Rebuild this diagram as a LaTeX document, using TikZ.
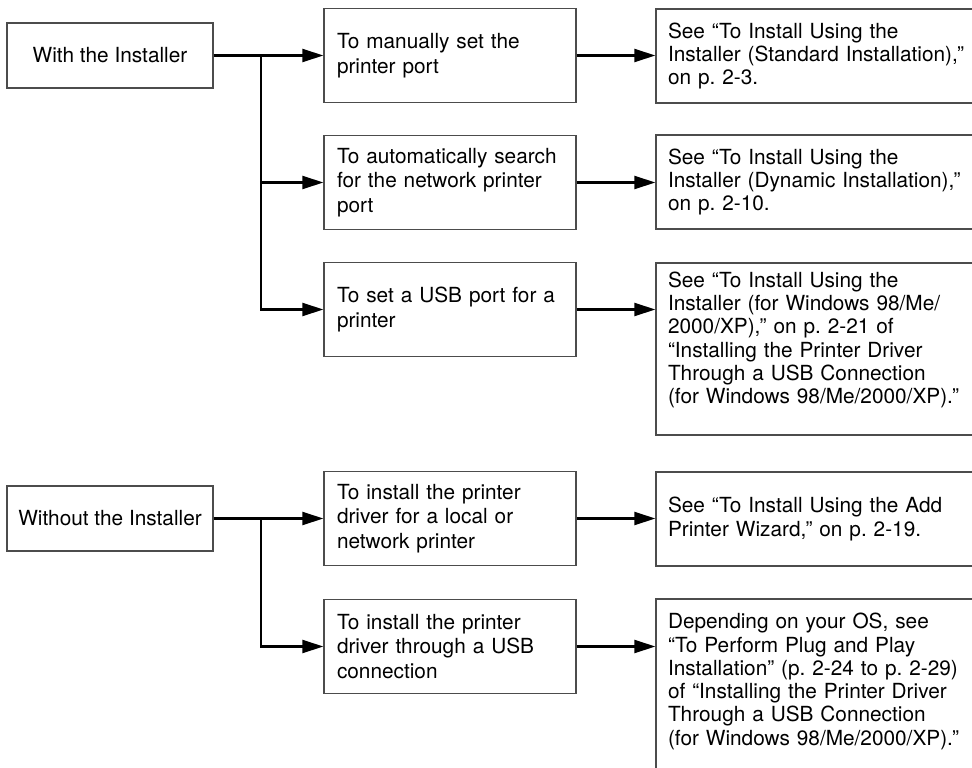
\documentclass[tikz,border=0pt]{standalone}
\usepackage{fontspec}
\setmainfont{TeX Gyre Heros}
\usepackage{tikz}
\usetikzlibrary{arrows.meta}
\definecolor{boxline}{gray}{0.3}
\frenchspacing

\begin{document}
\begin{tikzpicture}[x=1pt,y=-1pt,
      box/.style={draw=boxline, line width=1.3pt, rectangle, inner ysep=0pt},
      startbox/.style={box, minimum width=206pt, minimum height=65pt,
                       font=\fontsize{20.8}{24}\selectfont},
      choicebox/.style={box, minimum height=93.5pt, text width=226pt, inner xsep=13pt,
                        align=left, font=\fontsize{20.8}{24.7}\selectfont},
      refbox/.style={box, minimum height=94pt, text width=310pt, inner xsep=12pt,
                     align=left, font=\fontsize{20.8}{23.3}\selectfont},
      link/.style={line width=2.2pt, -{Triangle[length=21pt,width=13pt]}},
      ]
      \useasboundingbox (0,0) rectangle (972,768);
      \clip (0,0) rectangle (972,768);

      \node[startbox] (with) at (110,55.5) {With the Installer};
      \node[startbox] (without) at (110,518.5) {Without the Installer};

      \node[choicebox] (mid1) at (450,55.5) {To manually set the\\printer port};
      \node[choicebox] (mid2) at (450,182.5) {To automatically search\\for the network printer\\port};
      \node[choicebox] (mid3) at (450,309.5) {To set a USB port for a\\printer};
      \node[choicebox] (mid4) at (450,518.5) {To install the printer\\driver for a local or\\network printer};
      \node[choicebox] (mid5) at (450,646.5) {To install the printer\\driver through a USB\\connection};

      \node[refbox] (ref1) at (823,56) {See “To Install Using the\\Installer (Standard Installation),”\\on p. 2-3.};
      \node[refbox] (ref2) at (823,182) {See “To Install Using the\\Installer (Dynamic Installation),”\\on p. 2-10.};
      \node[refbox, minimum height=172pt, text depth=139pt] (ref3) at (823,349) {See “To Install Using the\\Installer (for Windows 98/Me/\\2000/XP),” on p. 2-21 of\\“Installing the Printer Driver\\Through a USB Connection\\(for Windows 98/Me/2000/XP).”};
      \node[refbox] (ref4) at (823,519) {See “To Install Using the Add\\Printer Wizard,” on p. 2-19.};
      \node[refbox, minimum height=173pt, text depth=129pt] (ref5) at (823,685.5) {Depending on your OS, see\\“To Perform Plug and Play\\Installation” (p. 2-24 to p. 2-29)\\of “Installing the Printer Driver\\Through a USB Connection\\(for Windows 98/Me/2000/XP).”};

      \coordinate (fork1) at ([xshift=47pt]with.east);
      \coordinate (fork2) at ([xshift=47pt]without.east);

      \draw[link] (with) -- (mid1);
      \draw[link] (fork1) |- (mid2.west);
      \draw[link] (fork1) |- (mid3.west);
      \draw[link] (without) -- (mid4);
      \draw[link] (fork2) |- (mid5.west);

      \draw[link] (mid1.east) -- (mid1.east -| ref1.west);
      \draw[link] (mid2.east) -- (mid2.east -| ref2.west);
      \draw[link] (mid3.east) -- (mid3.east -| ref3.west);
      \draw[link] (mid4.east) -- (mid4.east -| ref4.west);
      \draw[link] (mid5.east) -- (mid5.east -| ref5.west);
\end{tikzpicture}
\end{document}
